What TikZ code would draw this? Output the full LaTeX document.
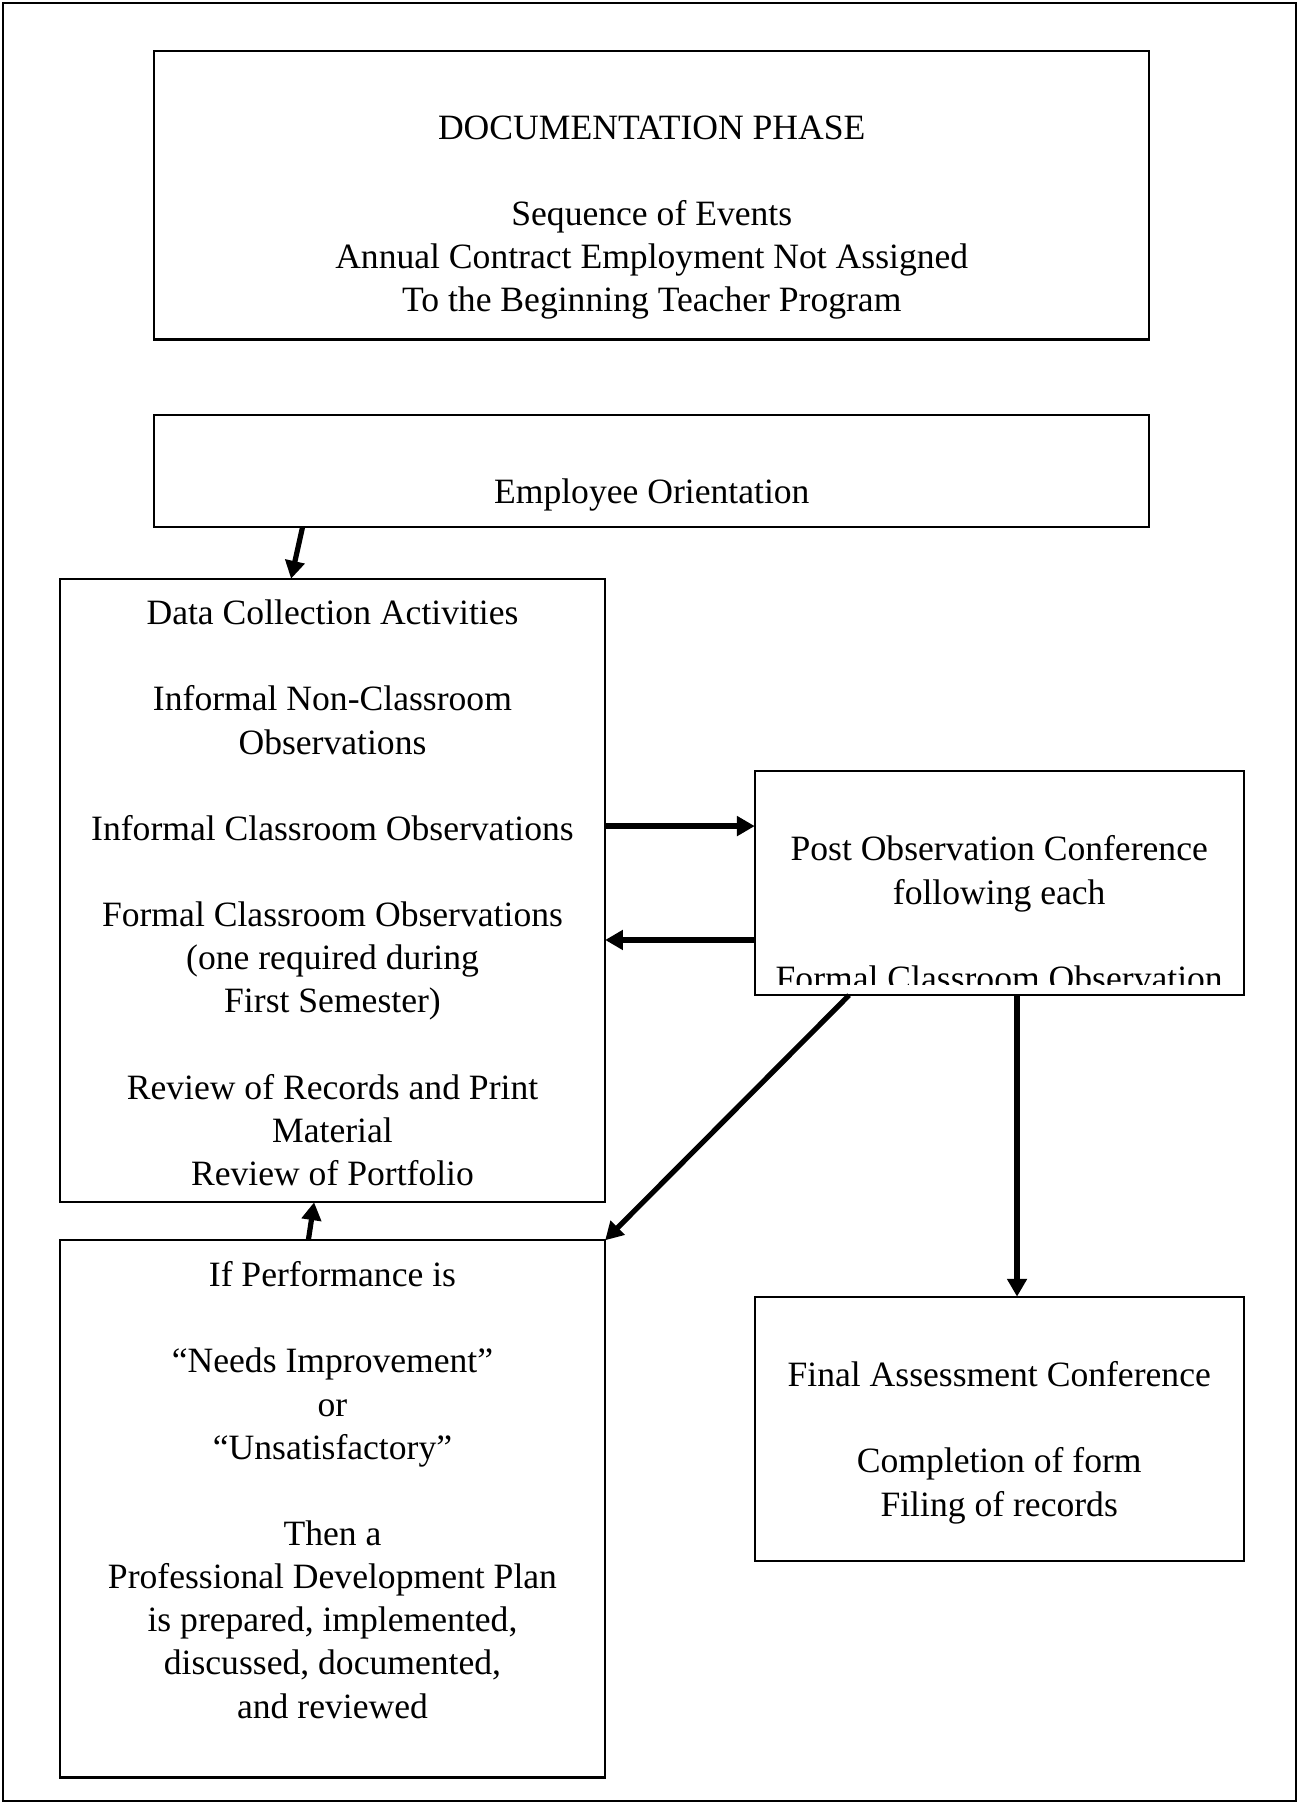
\documentclass[tikz,border=0pt]{standalone}
\usepackage{fontspec}
\setmainfont{Liberation Serif}
\usetikzlibrary{positioning}
\usetikzlibrary{calc}
\usetikzlibrary{arrows.meta}
\newcommand{\emptyline}{\\[15.75pt]}

\begin{document}
\begin{tikzpicture}[x=0.42pt,y=-0.42pt,
  box/.style 2 args={draw,line width=0.8pt,anchor=north west,inner sep=0pt,outer sep=0pt,
    minimum width=#1*0.42pt,minimum height=#2*0.42pt},
  txt/.style={align=center,inner sep=0pt,anchor=north,font=\fontsize{13}{15.75}\selectfont},
  arr/.style={line width=1.9pt,-{Triangle[length=6.5pt,width=7pt]}}]
  \useasboundingbox (0,0) rectangle (1129,1568);
  \draw[line width=0.8pt] (2.5,2.5) rectangle (1126.5,1565.5);

  % boxes
  \node[box={865}{251}] (phase) at (134,44) {};
  \node[box={865}{97}] (orient) at (134,361) {};
  \node[box={474}{542}] (collect) at (52,503) {};
  \node[box={425}{195}] (post) at (656,670) {};
  \node[box={474}{467}] (perf) at (52,1078) {};
  \node[box={425}{230}] (final) at (656,1127) {};

  % texts
  \node[txt,below=23.52pt of phase.north] (phasetxt)
    {DOCUMENTATION PHASE\emptyline Sequence of Events\\ Annual Contract Employment Not Assigned\\ To the Beginning Teacher Program};
  \node[txt,below=23.1pt of orient.north] (orienttxt) {Employee Orientation};
  \node[txt,below=7.56pt of collect.north] (collecttxt)
    {Data Collection Activities\emptyline
     Informal Non-Classroom\\ Observations\emptyline
     Informal Classroom Observations\emptyline
     Formal Classroom Observations\\ (one required during\\ First Semester)\emptyline
     Review of Records and Print\\ Material\\ Review of Portfolio};
  \begin{scope}
    \clip (post.north west) rectangle ($(post.south east)+(0,-9)$);
    \node[txt,below=23.52pt of post.north] (posttxt)
      {Post Observation Conference\\ following each\emptyline Formal Classroom Observation};
  \end{scope}
  \node[txt,below=7.56pt of perf.north] (perftxt)
    {If Performance is\emptyline
     “Needs Improvement”\\ or\\ “Unsatisfactory”\emptyline
     Then a\\ Professional Development Plan\\ is prepared, implemented,\\ discussed, documented,\\ and reviewed};
  \node[txt,below=23.52pt of final.north] (finaltxt)
    {Final Assessment Conference\emptyline Completion of form\\ Filing of records};

  % connectors
  \draw[arr] ($(orient.south west)+(129,0)$) -- ($(collect.north west)+(201,0)$);
  \draw[arr] ($(collect.north east)+(0,215)$) -- ($(post.north west)+(0,48)$);
  \draw[arr] ($(post.north west)+(0,147)$) -- ($(collect.north east)+(0,314)$);
  \draw[arr] ($(post.south west)+(82,0)$) -- (perf.north east);
  \draw[arr] ($(post.south west)+(228,0)$) -- ($(final.north west)+(228,0)$);
  \draw[arr] ($(perf.north west)+(216,0)$) -- ($(collect.south west)+(221,0)$);
\end{tikzpicture}
\end{document}
